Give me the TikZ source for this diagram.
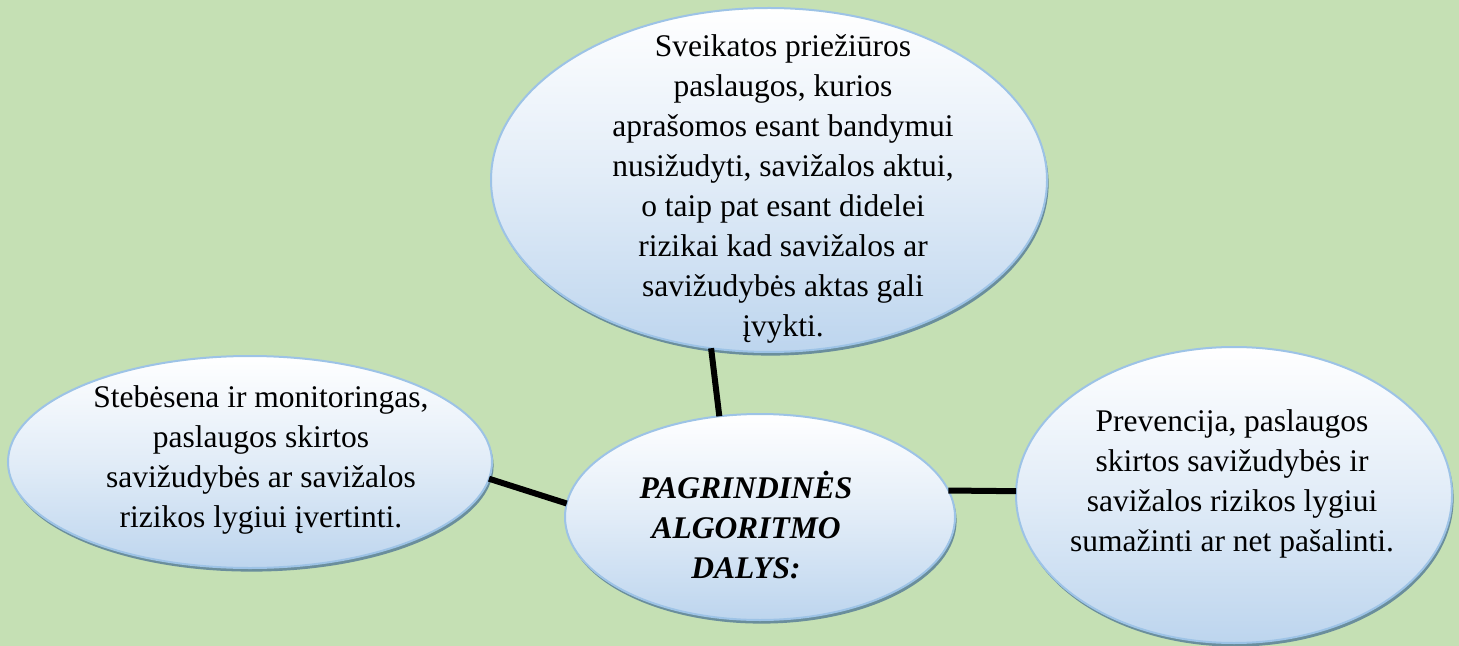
\documentclass[tikz,border=0pt]{standalone}
\usepackage{fontspec}
\setmainfont{LiberationSerif}[Extension=.ttf, UprightFont=*-Regular, BoldFont=*-Bold, ItalicFont=*-Italic, BoldItalicFont=*-BoldItalic]
\usetikzlibrary{shapes.geometric,shadows}
\definecolor{bgc}{HTML}{C5E0B4}
\definecolor{edgec}{HTML}{9DC3E6}
\definecolor{fillbot}{HTML}{BDD5EE}
\definecolor{shadc}{HTML}{6A8E9C}
\tikzset{
  bubble/.style={ellipse, draw=edgec, line width=1pt, inner sep=0pt, outer sep=0pt,
    top color=white, bottom color=fillbot, middle color=fillbot!45!white,
    drop shadow={shadow xshift=0.8pt, shadow yshift=-1.8pt, fill=shadc, opacity=1}},
  txt/.style={align=center, inner sep=0pt, font=\fontsize{15.75}{20}\selectfont},
  hub/.style={txt, font=\fontsize{15.75}{20}\selectfont\bfseries\itshape},
  link/.style={line width=3pt, black}
}
\begin{document}
\begin{tikzpicture}[x=0.5pt,y=-0.5pt]
\useasboundingbox (0,0) rectangle (1459,646);
\fill[bgc] (0,0) rectangle (1459,646);
\node[bubble, minimum width=278pt, minimum height=172pt] (top) at (769,180) {};
\node[bubble, minimum width=242pt, minimum height=106pt] (left) at (250,462) {};
\node[bubble, minimum width=195pt, minimum height=103pt] (center) at (760,517) {};
\node[bubble, minimum width=218pt, minimum height=148pt] (right) at (1234,495) {};
\node[txt] (ttop) at (783,189) {Sveikatos priežiūros\\paslaugos, kurios\\aprašomos esant bandymui\\nusižudyti, savižalos aktui,\\o taip pat esant didelei\\rizikai kad savižalos ar\\savižudybės aktas gali\\įvykti.};
\node[txt] (tleft) at (261,460) {Stebėsena ir monitoringas,\\paslaugos skirtos\\savižudybės ar savižalos\\rizikos lygiui įvertinti.};
\node[hub] (tcenter) at (746,525) {PAGRINDINĖS\\ALGORITMO\\DALYS:};
\node[txt] (tright) at (1232,484) {Prevencija, paslaugos\\skirtos savižudybės ir\\savižalos rizikos lygiui\\sumažinti ar net pašalinti.};
\draw[link] (top.251) -- (center.112);
\draw[link] (left.-4) -- (center.176);
\draw[link] (center.8) -- (right.179);
\end{tikzpicture}
\end{document}
